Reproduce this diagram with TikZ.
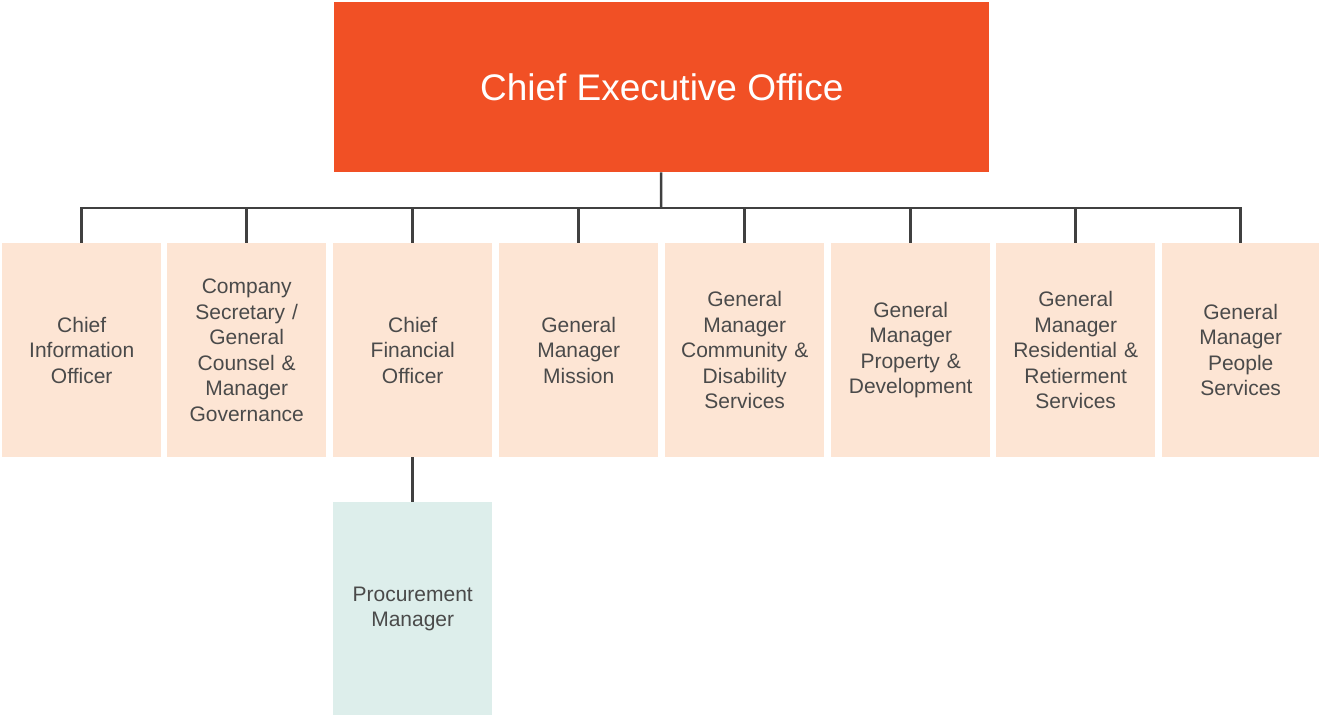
\documentclass[tikz,border=0pt]{standalone}
\usepackage{fontspec}
\setmainfont{Liberation Sans}
\definecolor{ceo}{HTML}{F15025}
\definecolor{peach}{HTML}{FDE5D4}
\definecolor{teal}{HTML}{DDEEEB}
\definecolor{txt}{HTML}{4A4A4A}
\definecolor{ln}{HTML}{404040}
\begin{document}
\begin{tikzpicture}[x=1pt,y=-1pt,
  unitbox/.style={fill=peach, minimum width=159pt, minimum height=214pt, inner sep=0pt,
     text width=150pt, align=center, text=txt, font=\fontsize{21}{25.5}\selectfont, anchor=north west},
  conn/.style={draw=ln, line width=2.5pt}]
\useasboundingbox (0,0) rectangle (1319,715);
\node[fill=ceo, minimum width=655pt, minimum height=170pt, inner sep=0pt, anchor=north west,
  text=white, font=\fontsize{37}{40}\selectfont] (ceo) at (334,2) {Chief Executive Office};
\node[unitbox] (b1) at (2,243) {Chief\\Information\\Officer};
\node[unitbox] (b2) at (167,243) {Company\\Secretary /\\General\\Counsel \&\\Manager\\Governance};
\node[unitbox] (b3) at (333,243) {Chief\\Financial\\Officer};
\node[unitbox] (b4) at (499,243) {General\\Manager\\Mission};
\node[unitbox] (b5) at (665,243) {General\\Manager\\Community \&\\Disability\\Services};
\node[unitbox] (b6) at (831,243) {General\\Manager\\Property \&\\Development};
\node[unitbox] (b7) at (996,243) {General\\Manager\\Residential \&\\Retierment\\Services};
\node[unitbox, minimum width=157pt] (b8) at (1162,243) {General\\Manager\\People\\Services};
\node[unitbox, fill=teal, minimum height=213pt] (pm) at (333,502) {Procurement\\Manager};
\coordinate (bus) at (661,208);
\draw[conn] (ceo.south) ++(-0.5,0) -- (bus);
\draw[conn, line cap=rect] (b1.north |- bus) -- (b8.north |- bus);
\foreach \b in {b1,b2,b3,b4,b5,b6,b7,b8}{
  \draw[conn] (\b.north |- bus) -- (\b.north);
}
\draw[conn] (b3.south) -- (pm.north);
\end{tikzpicture}
\end{document}
